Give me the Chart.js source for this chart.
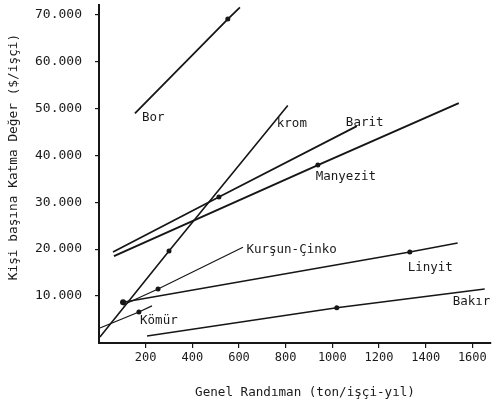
<!DOCTYPE html>
<html>
<head>
<meta charset="utf-8">
<script src="https://cdn.jsdelivr.net/npm/chart.js@4/dist/chart.umd.min.js"></script>
<style>
    html, body { margin: 0; padding: 0; background: #fff; }
    canvas { display: block; }
</style>
</head>
<body>
<canvas id="chart" width="495" height="406"></canvas>
<script>
// --- Data ---
const borX = [154, 552, 604];
const borY = [48900, 69000, 71500];

const kromX = [4, 300, 809];
const kromY = [1300, 19600, 50600];

const baritX = [60, 514, 1105];
const baritY = [19400, 31100, 46200];

const manyezitX = [64, 938, 1542];
const manyezitY = [18500, 37900, 51100];

const kursunX = [103, 253, 617];
const kursunY = [8100, 11500, 20400];

const linyitX = [103, 1332, 1537];
const linyitY = [8700, 19400, 21300];

const komurX = [4, 171, 227];
const komurY = [3200, 6600, 7900];

const bakirX = [206, 1019, 1653];
const bakirY = [1500, 7500, 11500];

// line labels, in data units
const labelText = ['Bor', 'krom', 'Barit', 'Manyezit', 'Kurşun-Çinko', 'Linyit', 'Bakır', 'Kömür'];
const labelX = [184, 762, 1058, 929, 632, 1323, 1516, 176];
const labelY = [47900, 46800, 47000, 35500, 19800, 16000, 8700, 4700];

const xTicks = [200, 400, 600, 800, 1000, 1200, 1400, 1600];
const yTicks = [10000, 20000, 30000, 40000, 50000, 60000, 70000];

const xTitle = 'Genel Randıman (ton/işçi-yıl)';
const yTitle = 'Kişi başına Katma Değer ($/işçi)';

const INK = '#161616';
const FONT = "'DejaVu Sans Mono', 'Liberation Mono', monospace";

const toPoints = (xs, ys) => xs.map((x, i) => ({ x: x, y: ys[i] }));

const lineSet = (xs, ys, width, radii) => ({
    data: toPoints(xs, ys),
    showLine: true,
    borderColor: INK,
    backgroundColor: INK,
    borderWidth: width,
    pointRadius: radii,
    pointBorderWidth: 0,
    tension: 0
});

// labels on the lines + axis titles
const textPlugin = {
    id: 'textPlugin',
    afterDatasetsDraw(chart) {
        const ctx = chart.ctx;
        const xs = chart.scales.x;
        const ys = chart.scales.y;
        ctx.save();
        ctx.fillStyle = '#1a1a1a';
        ctx.font = '12.5px ' + FONT;
        ctx.textAlign = 'left';
        ctx.textBaseline = 'middle';
        labelText.forEach((t, i) => {
            ctx.fillText(t, xs.getPixelForValue(labelX[i]), ys.getPixelForValue(labelY[i]));
        });

        // x title
        ctx.font = '12.6px ' + FONT;
        ctx.textAlign = 'center';
        ctx.fillText(xTitle, 305, 393);

        // y title
        ctx.translate(14, 157);
        ctx.rotate(-Math.PI / 2);
        ctx.font = '12.8px ' + FONT;
        ctx.fillText(yTitle, 0, 0);
        ctx.restore();
    }
};

new Chart(document.getElementById('chart'), {
    type: 'scatter',
    data: {
        datasets: [
            lineSet(borX, borY, 1.8, [0, 2.5, 0]),
            lineSet(kromX, kromY, 1.6, [0, 2.5, 0]),
            lineSet(baritX, baritY, 1.8, [0, 2.5, 0]),
            lineSet(manyezitX, manyezitY, 2, [0, 2.5, 0]),
            lineSet(kursunX, kursunY, 1.2, [0, 2.5, 0]),
            lineSet(linyitX, linyitY, 1.5, [3, 2.5, 0]),
            lineSet(komurX, komurY, 1.3, [0, 2.5, 0]),
            lineSet(bakirX, bakirY, 1.5, [0, 2.5, 0])
        ]
    },
    options: {
        responsive: false,
        animation: false,
        devicePixelRatio: 1,
        layout: { padding: { top: 5, right: 4, left: 0, bottom: 0 } },
        plugins: {
            legend: { display: false },
            tooltip: { enabled: false }
        },
        scales: {
            x: {
                type: 'linear',
                min: 0,
                max: 1680,
                afterFit: (scale) => {
                    scale.height = 63;
                    scale.paddingLeft = 0;
                    scale.paddingRight = 0;
                },
                afterBuildTicks: (scale) => {
                    scale.ticks = xTicks.map(v => ({ value: v }));
                },
                border: { color: INK, width: 2 },
                grid: { drawOnChartArea: false, tickLength: 5, color: INK, lineWidth: 1.2 },
                ticks: {
                    color: '#1a1a1a',
                    padding: 3,
                    maxRotation: 0,
                    font: { family: FONT, size: 12 },
                    callback: (v) => String(v)
                }
            },
            y: {
                type: 'linear',
                min: 0,
                max: 72000,
                afterFit: (scale) => {
                    scale.width = 99;
                    scale.paddingTop = 0;
                    scale.paddingBottom = 0;
                },
                afterBuildTicks: (scale) => {
                    scale.ticks = yTicks.map(v => ({ value: v }));
                },
                border: { color: INK, width: 2 },
                grid: { drawOnChartArea: false, tickLength: 4, color: INK, lineWidth: 1.2 },
                ticks: {
                    color: '#1a1a1a',
                    padding: 13,
                    font: { family: FONT, size: 13 },
                    callback: (v) => (v / 1000) + '.000'
                }
            }
        }
    },
    plugins: [textPlugin]
});
</script>
</body>
</html>
